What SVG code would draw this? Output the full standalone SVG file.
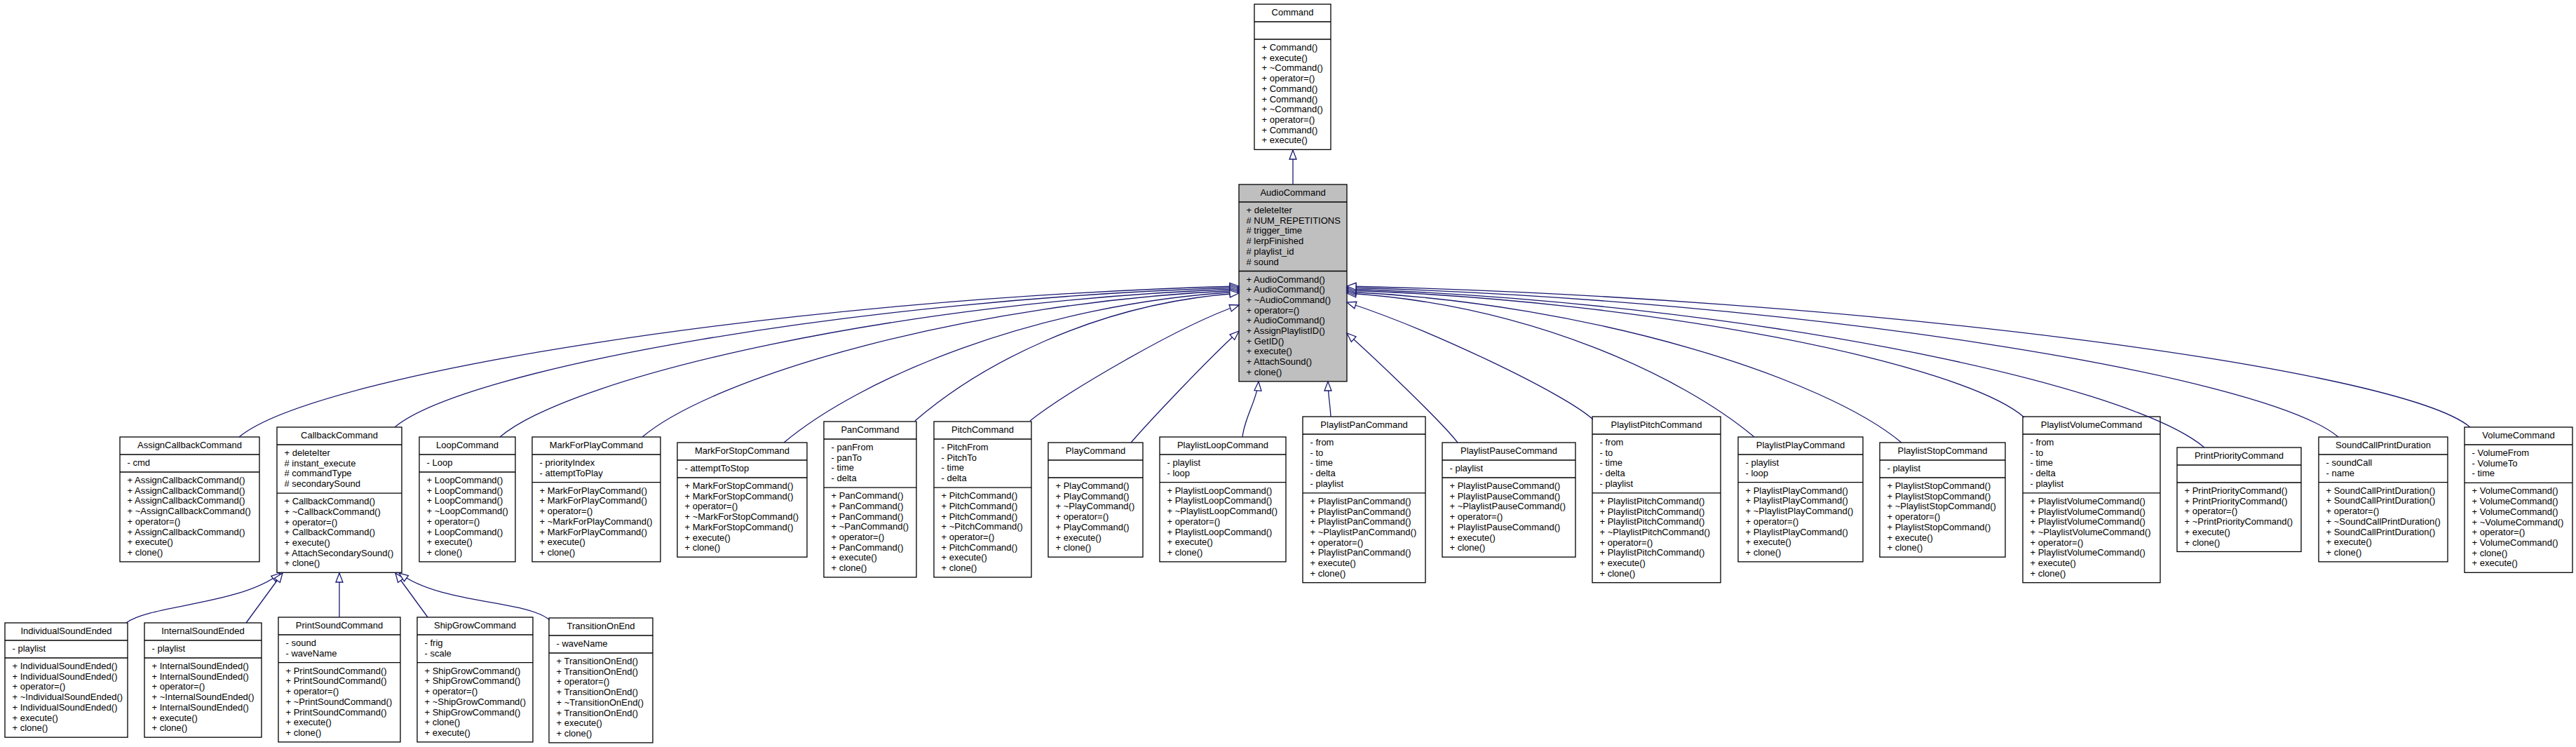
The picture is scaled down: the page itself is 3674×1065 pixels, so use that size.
<svg xmlns="http://www.w3.org/2000/svg" width="3674" height="1065" viewBox="0 0 3674 1065">
<style>
.bg{fill:#fff}
.box{fill:#fff;stroke:#000;stroke-width:1.3}
.gray{fill:#bfbfbf}
.dv{stroke:#000;stroke-width:1.3}
.t{font-family:"Liberation Sans",Arial,Helvetica,sans-serif;font-size:13px;fill:#000}
.c{text-anchor:middle}
.e{fill:none;stroke:#191970;stroke-width:1.3;marker-end:url(#tri)}
</style>
<defs>
<marker id="tri" markerUnits="userSpaceOnUse" markerWidth="20" markerHeight="16" viewBox="-16 -8 20 16" refX="0" refY="0" orient="auto" overflow="visible">
<path d="M0,0 L-13,-5 L-13,5 Z" fill="#fff" stroke="#191970" stroke-width="1.3"/>
</marker>
</defs>
<rect class="bg" x="0" y="0" width="3674" height="1065"/>

<g id="Command">
<rect class="box" x="1789" y="6" width="109" height="207.3"/>
<line class="dv" x1="1789" y1="31" x2="1898" y2="31"/>
<line class="dv" x1="1789" y1="56" x2="1898" y2="56"/>
<text class="t c" x="1843.5" y="22">Command</text>
<text class="t" x="1799.5" y="72"><tspan x="1799.5">+ Command()</tspan><tspan x="1799.5" dy="14.7">+ execute()</tspan><tspan x="1799.5" dy="14.7">+ ~Command()</tspan><tspan x="1799.5" dy="14.7">+ operator=()</tspan><tspan x="1799.5" dy="14.7">+ Command()</tspan><tspan x="1799.5" dy="14.7">+ Command()</tspan><tspan x="1799.5" dy="14.7">+ ~Command()</tspan><tspan x="1799.5" dy="14.7">+ operator=()</tspan><tspan x="1799.5" dy="14.7">+ Command()</tspan><tspan x="1799.5" dy="14.7">+ execute()</tspan></text>
</g>

<g id="AudioCommand">
<rect class="box gray" x="1767" y="263" width="154" height="280.8"/>
<line class="dv" x1="1767" y1="288" x2="1921" y2="288"/>
<line class="dv" x1="1767" y1="386.5" x2="1921" y2="386.5"/>
<text class="t c" x="1844" y="279">AudioCommand</text>
<text class="t" x="1777.5" y="304"><tspan x="1777.5">+ deleteIter</tspan><tspan x="1777.5" dy="14.7"># NUM_REPETITIONS</tspan><tspan x="1777.5" dy="14.7"># trigger_time</tspan><tspan x="1777.5" dy="14.7"># lerpFinished</tspan><tspan x="1777.5" dy="14.7"># playlist_id</tspan><tspan x="1777.5" dy="14.7"># sound</tspan></text>
<text class="t" x="1777.5" y="402.5"><tspan x="1777.5">+ AudioCommand()</tspan><tspan x="1777.5" dy="14.7">+ AudioCommand()</tspan><tspan x="1777.5" dy="14.7">+ ~AudioCommand()</tspan><tspan x="1777.5" dy="14.7">+ operator=()</tspan><tspan x="1777.5" dy="14.7">+ AudioCommand()</tspan><tspan x="1777.5" dy="14.7">+ AssignPlaylistID()</tspan><tspan x="1777.5" dy="14.7">+ GetID()</tspan><tspan x="1777.5" dy="14.7">+ execute()</tspan><tspan x="1777.5" dy="14.7">+ AttachSound()</tspan><tspan x="1777.5" dy="14.7">+ clone()</tspan></text>
</g>

<g id="AssignCallbackCommand">
<rect class="box" x="171" y="623" width="199" height="177.9"/>
<line class="dv" x1="171" y1="648" x2="370" y2="648"/>
<line class="dv" x1="171" y1="673" x2="370" y2="673"/>
<text class="t c" x="270.5" y="639">AssignCallbackCommand</text>
<text class="t" x="181.5" y="664">- cmd</text>
<text class="t" x="181.5" y="689"><tspan x="181.5">+ AssignCallbackCommand()</tspan><tspan x="181.5" dy="14.7">+ AssignCallbackCommand()</tspan><tspan x="181.5" dy="14.7">+ AssignCallbackCommand()</tspan><tspan x="181.5" dy="14.7">+ ~AssignCallbackCommand()</tspan><tspan x="181.5" dy="14.7">+ operator=()</tspan><tspan x="181.5" dy="14.7">+ AssignCallbackCommand()</tspan><tspan x="181.5" dy="14.7">+ execute()</tspan><tspan x="181.5" dy="14.7">+ clone()</tspan></text>
</g>

<g id="CallbackCommand">
<rect class="box" x="395" y="609" width="178" height="207.3"/>
<line class="dv" x1="395" y1="634" x2="573" y2="634"/>
<line class="dv" x1="395" y1="703.1" x2="573" y2="703.1"/>
<text class="t c" x="484" y="625">CallbackCommand</text>
<text class="t" x="405.5" y="650"><tspan x="405.5">+ deleteIter</tspan><tspan x="405.5" dy="14.7"># instant_execute</tspan><tspan x="405.5" dy="14.7"># commandType</tspan><tspan x="405.5" dy="14.7"># secondarySound</tspan></text>
<text class="t" x="405.5" y="719.1"><tspan x="405.5">+ CallbackCommand()</tspan><tspan x="405.5" dy="14.7">+ ~CallbackCommand()</tspan><tspan x="405.5" dy="14.7">+ operator=()</tspan><tspan x="405.5" dy="14.7">+ CallbackCommand()</tspan><tspan x="405.5" dy="14.7">+ execute()</tspan><tspan x="405.5" dy="14.7">+ AttachSecondarySound()</tspan><tspan x="405.5" dy="14.7">+ clone()</tspan></text>
</g>

<g id="LoopCommand">
<rect class="box" x="598" y="623" width="137" height="177.9"/>
<line class="dv" x1="598" y1="648" x2="735" y2="648"/>
<line class="dv" x1="598" y1="673" x2="735" y2="673"/>
<text class="t c" x="666.5" y="639">LoopCommand</text>
<text class="t" x="608.5" y="664">- Loop</text>
<text class="t" x="608.5" y="689"><tspan x="608.5">+ LoopCommand()</tspan><tspan x="608.5" dy="14.7">+ LoopCommand()</tspan><tspan x="608.5" dy="14.7">+ LoopCommand()</tspan><tspan x="608.5" dy="14.7">+ ~LoopCommand()</tspan><tspan x="608.5" dy="14.7">+ operator=()</tspan><tspan x="608.5" dy="14.7">+ LoopCommand()</tspan><tspan x="608.5" dy="14.7">+ execute()</tspan><tspan x="608.5" dy="14.7">+ clone()</tspan></text>
</g>

<g id="MarkForPlayCommand">
<rect class="box" x="759" y="623" width="183" height="177.9"/>
<line class="dv" x1="759" y1="648" x2="942" y2="648"/>
<line class="dv" x1="759" y1="687.7" x2="942" y2="687.7"/>
<text class="t c" x="850.5" y="639">MarkForPlayCommand</text>
<text class="t" x="769.5" y="664"><tspan x="769.5">- priorityIndex</tspan><tspan x="769.5" dy="14.7">- attemptToPlay</tspan></text>
<text class="t" x="769.5" y="703.7"><tspan x="769.5">+ MarkForPlayCommand()</tspan><tspan x="769.5" dy="14.7">+ MarkForPlayCommand()</tspan><tspan x="769.5" dy="14.7">+ operator=()</tspan><tspan x="769.5" dy="14.7">+ ~MarkForPlayCommand()</tspan><tspan x="769.5" dy="14.7">+ MarkForPlayCommand()</tspan><tspan x="769.5" dy="14.7">+ execute()</tspan><tspan x="769.5" dy="14.7">+ clone()</tspan></text>
</g>

<g id="MarkForStopCommand">
<rect class="box" x="966" y="631" width="185" height="163.2"/>
<line class="dv" x1="966" y1="656" x2="1151" y2="656"/>
<line class="dv" x1="966" y1="681" x2="1151" y2="681"/>
<text class="t c" x="1058.5" y="647">MarkForStopCommand</text>
<text class="t" x="976.5" y="672">- attemptToStop</text>
<text class="t" x="976.5" y="697"><tspan x="976.5">+ MarkForStopCommand()</tspan><tspan x="976.5" dy="14.7">+ MarkForStopCommand()</tspan><tspan x="976.5" dy="14.7">+ operator=()</tspan><tspan x="976.5" dy="14.7">+ ~MarkForStopCommand()</tspan><tspan x="976.5" dy="14.7">+ MarkForStopCommand()</tspan><tspan x="976.5" dy="14.7">+ execute()</tspan><tspan x="976.5" dy="14.7">+ clone()</tspan></text>
</g>

<g id="PanCommand">
<rect class="box" x="1175" y="601" width="132" height="222"/>
<line class="dv" x1="1175" y1="626" x2="1307" y2="626"/>
<line class="dv" x1="1175" y1="695.1" x2="1307" y2="695.1"/>
<text class="t c" x="1241" y="617">PanCommand</text>
<text class="t" x="1185.5" y="642"><tspan x="1185.5">- panFrom</tspan><tspan x="1185.5" dy="14.7">- panTo</tspan><tspan x="1185.5" dy="14.7">- time</tspan><tspan x="1185.5" dy="14.7">- delta</tspan></text>
<text class="t" x="1185.5" y="711.1"><tspan x="1185.5">+ PanCommand()</tspan><tspan x="1185.5" dy="14.7">+ PanCommand()</tspan><tspan x="1185.5" dy="14.7">+ PanCommand()</tspan><tspan x="1185.5" dy="14.7">+ ~PanCommand()</tspan><tspan x="1185.5" dy="14.7">+ operator=()</tspan><tspan x="1185.5" dy="14.7">+ PanCommand()</tspan><tspan x="1185.5" dy="14.7">+ execute()</tspan><tspan x="1185.5" dy="14.7">+ clone()</tspan></text>
</g>

<g id="PitchCommand">
<rect class="box" x="1332" y="601" width="139" height="222"/>
<line class="dv" x1="1332" y1="626" x2="1471" y2="626"/>
<line class="dv" x1="1332" y1="695.1" x2="1471" y2="695.1"/>
<text class="t c" x="1401.5" y="617">PitchCommand</text>
<text class="t" x="1342.5" y="642"><tspan x="1342.5">- PitchFrom</tspan><tspan x="1342.5" dy="14.7">- PitchTo</tspan><tspan x="1342.5" dy="14.7">- time</tspan><tspan x="1342.5" dy="14.7">- delta</tspan></text>
<text class="t" x="1342.5" y="711.1"><tspan x="1342.5">+ PitchCommand()</tspan><tspan x="1342.5" dy="14.7">+ PitchCommand()</tspan><tspan x="1342.5" dy="14.7">+ PitchCommand()</tspan><tspan x="1342.5" dy="14.7">+ ~PitchCommand()</tspan><tspan x="1342.5" dy="14.7">+ operator=()</tspan><tspan x="1342.5" dy="14.7">+ PitchCommand()</tspan><tspan x="1342.5" dy="14.7">+ execute()</tspan><tspan x="1342.5" dy="14.7">+ clone()</tspan></text>
</g>

<g id="PlayCommand">
<rect class="box" x="1495" y="631" width="135" height="163.2"/>
<line class="dv" x1="1495" y1="656" x2="1630" y2="656"/>
<line class="dv" x1="1495" y1="681" x2="1630" y2="681"/>
<text class="t c" x="1562.5" y="647">PlayCommand</text>
<text class="t" x="1505.5" y="697"><tspan x="1505.5">+ PlayCommand()</tspan><tspan x="1505.5" dy="14.7">+ PlayCommand()</tspan><tspan x="1505.5" dy="14.7">+ ~PlayCommand()</tspan><tspan x="1505.5" dy="14.7">+ operator=()</tspan><tspan x="1505.5" dy="14.7">+ PlayCommand()</tspan><tspan x="1505.5" dy="14.7">+ execute()</tspan><tspan x="1505.5" dy="14.7">+ clone()</tspan></text>
</g>

<g id="PlaylistLoopCommand">
<rect class="box" x="1654" y="623" width="180" height="177.9"/>
<line class="dv" x1="1654" y1="648" x2="1834" y2="648"/>
<line class="dv" x1="1654" y1="687.7" x2="1834" y2="687.7"/>
<text class="t c" x="1744" y="639">PlaylistLoopCommand</text>
<text class="t" x="1664.5" y="664"><tspan x="1664.5">- playlist</tspan><tspan x="1664.5" dy="14.7">- loop</tspan></text>
<text class="t" x="1664.5" y="703.7"><tspan x="1664.5">+ PlaylistLoopCommand()</tspan><tspan x="1664.5" dy="14.7">+ PlaylistLoopCommand()</tspan><tspan x="1664.5" dy="14.7">+ ~PlaylistLoopCommand()</tspan><tspan x="1664.5" dy="14.7">+ operator=()</tspan><tspan x="1664.5" dy="14.7">+ PlaylistLoopCommand()</tspan><tspan x="1664.5" dy="14.7">+ execute()</tspan><tspan x="1664.5" dy="14.7">+ clone()</tspan></text>
</g>

<g id="PlaylistPanCommand">
<rect class="box" x="1858" y="594" width="175" height="236.7"/>
<line class="dv" x1="1858" y1="619" x2="2033" y2="619"/>
<line class="dv" x1="1858" y1="702.8" x2="2033" y2="702.8"/>
<text class="t c" x="1945.5" y="610">PlaylistPanCommand</text>
<text class="t" x="1868.5" y="635"><tspan x="1868.5">- from</tspan><tspan x="1868.5" dy="14.7">- to</tspan><tspan x="1868.5" dy="14.7">- time</tspan><tspan x="1868.5" dy="14.7">- delta</tspan><tspan x="1868.5" dy="14.7">- playlist</tspan></text>
<text class="t" x="1868.5" y="718.8"><tspan x="1868.5">+ PlaylistPanCommand()</tspan><tspan x="1868.5" dy="14.7">+ PlaylistPanCommand()</tspan><tspan x="1868.5" dy="14.7">+ PlaylistPanCommand()</tspan><tspan x="1868.5" dy="14.7">+ ~PlaylistPanCommand()</tspan><tspan x="1868.5" dy="14.7">+ operator=()</tspan><tspan x="1868.5" dy="14.7">+ PlaylistPanCommand()</tspan><tspan x="1868.5" dy="14.7">+ execute()</tspan><tspan x="1868.5" dy="14.7">+ clone()</tspan></text>
</g>

<g id="PlaylistPauseCommand">
<rect class="box" x="2057" y="631" width="190" height="163.2"/>
<line class="dv" x1="2057" y1="656" x2="2247" y2="656"/>
<line class="dv" x1="2057" y1="681" x2="2247" y2="681"/>
<text class="t c" x="2152" y="647">PlaylistPauseCommand</text>
<text class="t" x="2067.5" y="672">- playlist</text>
<text class="t" x="2067.5" y="697"><tspan x="2067.5">+ PlaylistPauseCommand()</tspan><tspan x="2067.5" dy="14.7">+ PlaylistPauseCommand()</tspan><tspan x="2067.5" dy="14.7">+ ~PlaylistPauseCommand()</tspan><tspan x="2067.5" dy="14.7">+ operator=()</tspan><tspan x="2067.5" dy="14.7">+ PlaylistPauseCommand()</tspan><tspan x="2067.5" dy="14.7">+ execute()</tspan><tspan x="2067.5" dy="14.7">+ clone()</tspan></text>
</g>

<g id="PlaylistPitchCommand">
<rect class="box" x="2271" y="594" width="183" height="236.7"/>
<line class="dv" x1="2271" y1="619" x2="2454" y2="619"/>
<line class="dv" x1="2271" y1="702.8" x2="2454" y2="702.8"/>
<text class="t c" x="2362.5" y="610">PlaylistPitchCommand</text>
<text class="t" x="2281.5" y="635"><tspan x="2281.5">- from</tspan><tspan x="2281.5" dy="14.7">- to</tspan><tspan x="2281.5" dy="14.7">- time</tspan><tspan x="2281.5" dy="14.7">- delta</tspan><tspan x="2281.5" dy="14.7">- playlist</tspan></text>
<text class="t" x="2281.5" y="718.8"><tspan x="2281.5">+ PlaylistPitchCommand()</tspan><tspan x="2281.5" dy="14.7">+ PlaylistPitchCommand()</tspan><tspan x="2281.5" dy="14.7">+ PlaylistPitchCommand()</tspan><tspan x="2281.5" dy="14.7">+ ~PlaylistPitchCommand()</tspan><tspan x="2281.5" dy="14.7">+ operator=()</tspan><tspan x="2281.5" dy="14.7">+ PlaylistPitchCommand()</tspan><tspan x="2281.5" dy="14.7">+ execute()</tspan><tspan x="2281.5" dy="14.7">+ clone()</tspan></text>
</g>

<g id="PlaylistPlayCommand">
<rect class="box" x="2479" y="623" width="178" height="177.9"/>
<line class="dv" x1="2479" y1="648" x2="2657" y2="648"/>
<line class="dv" x1="2479" y1="687.7" x2="2657" y2="687.7"/>
<text class="t c" x="2568" y="639">PlaylistPlayCommand</text>
<text class="t" x="2489.5" y="664"><tspan x="2489.5">- playlist</tspan><tspan x="2489.5" dy="14.7">- loop</tspan></text>
<text class="t" x="2489.5" y="703.7"><tspan x="2489.5">+ PlaylistPlayCommand()</tspan><tspan x="2489.5" dy="14.7">+ PlaylistPlayCommand()</tspan><tspan x="2489.5" dy="14.7">+ ~PlaylistPlayCommand()</tspan><tspan x="2489.5" dy="14.7">+ operator=()</tspan><tspan x="2489.5" dy="14.7">+ PlaylistPlayCommand()</tspan><tspan x="2489.5" dy="14.7">+ execute()</tspan><tspan x="2489.5" dy="14.7">+ clone()</tspan></text>
</g>

<g id="PlaylistStopCommand">
<rect class="box" x="2681" y="631" width="179" height="163.2"/>
<line class="dv" x1="2681" y1="656" x2="2860" y2="656"/>
<line class="dv" x1="2681" y1="681" x2="2860" y2="681"/>
<text class="t c" x="2770.5" y="647">PlaylistStopCommand</text>
<text class="t" x="2691.5" y="672">- playlist</text>
<text class="t" x="2691.5" y="697"><tspan x="2691.5">+ PlaylistStopCommand()</tspan><tspan x="2691.5" dy="14.7">+ PlaylistStopCommand()</tspan><tspan x="2691.5" dy="14.7">+ ~PlaylistStopCommand()</tspan><tspan x="2691.5" dy="14.7">+ operator=()</tspan><tspan x="2691.5" dy="14.7">+ PlaylistStopCommand()</tspan><tspan x="2691.5" dy="14.7">+ execute()</tspan><tspan x="2691.5" dy="14.7">+ clone()</tspan></text>
</g>

<g id="PlaylistVolumeCommand">
<rect class="box" x="2885" y="594" width="196" height="236.7"/>
<line class="dv" x1="2885" y1="619" x2="3081" y2="619"/>
<line class="dv" x1="2885" y1="702.8" x2="3081" y2="702.8"/>
<text class="t c" x="2983" y="610">PlaylistVolumeCommand</text>
<text class="t" x="2895.5" y="635"><tspan x="2895.5">- from</tspan><tspan x="2895.5" dy="14.7">- to</tspan><tspan x="2895.5" dy="14.7">- time</tspan><tspan x="2895.5" dy="14.7">- delta</tspan><tspan x="2895.5" dy="14.7">- playlist</tspan></text>
<text class="t" x="2895.5" y="718.8"><tspan x="2895.5">+ PlaylistVolumeCommand()</tspan><tspan x="2895.5" dy="14.7">+ PlaylistVolumeCommand()</tspan><tspan x="2895.5" dy="14.7">+ PlaylistVolumeCommand()</tspan><tspan x="2895.5" dy="14.7">+ ~PlaylistVolumeCommand()</tspan><tspan x="2895.5" dy="14.7">+ operator=()</tspan><tspan x="2895.5" dy="14.7">+ PlaylistVolumeCommand()</tspan><tspan x="2895.5" dy="14.7">+ execute()</tspan><tspan x="2895.5" dy="14.7">+ clone()</tspan></text>
</g>

<g id="PrintPriorityCommand">
<rect class="box" x="3105" y="638" width="177" height="148.5"/>
<line class="dv" x1="3105" y1="663" x2="3282" y2="663"/>
<line class="dv" x1="3105" y1="688" x2="3282" y2="688"/>
<text class="t c" x="3193.5" y="654">PrintPriorityCommand</text>
<text class="t" x="3115.5" y="704"><tspan x="3115.5">+ PrintPriorityCommand()</tspan><tspan x="3115.5" dy="14.7">+ PrintPriorityCommand()</tspan><tspan x="3115.5" dy="14.7">+ operator=()</tspan><tspan x="3115.5" dy="14.7">+ ~PrintPriorityCommand()</tspan><tspan x="3115.5" dy="14.7">+ execute()</tspan><tspan x="3115.5" dy="14.7">+ clone()</tspan></text>
</g>

<g id="SoundCallPrintDuration">
<rect class="box" x="3307" y="623" width="184" height="177.9"/>
<line class="dv" x1="3307" y1="648" x2="3491" y2="648"/>
<line class="dv" x1="3307" y1="687.7" x2="3491" y2="687.7"/>
<text class="t c" x="3399" y="639">SoundCallPrintDuration</text>
<text class="t" x="3317.5" y="664"><tspan x="3317.5">- soundCall</tspan><tspan x="3317.5" dy="14.7">- name</tspan></text>
<text class="t" x="3317.5" y="703.7"><tspan x="3317.5">+ SoundCallPrintDuration()</tspan><tspan x="3317.5" dy="14.7">+ SoundCallPrintDuration()</tspan><tspan x="3317.5" dy="14.7">+ operator=()</tspan><tspan x="3317.5" dy="14.7">+ ~SoundCallPrintDuration()</tspan><tspan x="3317.5" dy="14.7">+ SoundCallPrintDuration()</tspan><tspan x="3317.5" dy="14.7">+ execute()</tspan><tspan x="3317.5" dy="14.7">+ clone()</tspan></text>
</g>

<g id="VolumeCommand">
<rect class="box" x="3515" y="609" width="154" height="207.3"/>
<line class="dv" x1="3515" y1="634" x2="3669" y2="634"/>
<line class="dv" x1="3515" y1="688.4" x2="3669" y2="688.4"/>
<text class="t c" x="3592" y="625">VolumeCommand</text>
<text class="t" x="3525.5" y="650"><tspan x="3525.5">- VolumeFrom</tspan><tspan x="3525.5" dy="14.7">- VolumeTo</tspan><tspan x="3525.5" dy="14.7">- time</tspan></text>
<text class="t" x="3525.5" y="704.4"><tspan x="3525.5">+ VolumeCommand()</tspan><tspan x="3525.5" dy="14.7">+ VolumeCommand()</tspan><tspan x="3525.5" dy="14.7">+ VolumeCommand()</tspan><tspan x="3525.5" dy="14.7">+ ~VolumeCommand()</tspan><tspan x="3525.5" dy="14.7">+ operator=()</tspan><tspan x="3525.5" dy="14.7">+ VolumeCommand()</tspan><tspan x="3525.5" dy="14.7">+ clone()</tspan><tspan x="3525.5" dy="14.7">+ execute()</tspan></text>
</g>

<g id="IndividualSoundEnded">
<rect class="box" x="7" y="888" width="175" height="163.2"/>
<line class="dv" x1="7" y1="913" x2="182" y2="913"/>
<line class="dv" x1="7" y1="938" x2="182" y2="938"/>
<text class="t c" x="94.5" y="904">IndividualSoundEnded</text>
<text class="t" x="17.5" y="929">- playlist</text>
<text class="t" x="17.5" y="954"><tspan x="17.5">+ IndividualSoundEnded()</tspan><tspan x="17.5" dy="14.7">+ IndividualSoundEnded()</tspan><tspan x="17.5" dy="14.7">+ operator=()</tspan><tspan x="17.5" dy="14.7">+ ~IndividualSoundEnded()</tspan><tspan x="17.5" dy="14.7">+ IndividualSoundEnded()</tspan><tspan x="17.5" dy="14.7">+ execute()</tspan><tspan x="17.5" dy="14.7">+ clone()</tspan></text>
</g>

<g id="InternalSoundEnded">
<rect class="box" x="206" y="888" width="167" height="163.2"/>
<line class="dv" x1="206" y1="913" x2="373" y2="913"/>
<line class="dv" x1="206" y1="938" x2="373" y2="938"/>
<text class="t c" x="289.5" y="904">InternalSoundEnded</text>
<text class="t" x="216.5" y="929">- playlist</text>
<text class="t" x="216.5" y="954"><tspan x="216.5">+ InternalSoundEnded()</tspan><tspan x="216.5" dy="14.7">+ InternalSoundEnded()</tspan><tspan x="216.5" dy="14.7">+ operator=()</tspan><tspan x="216.5" dy="14.7">+ ~InternalSoundEnded()</tspan><tspan x="216.5" dy="14.7">+ InternalSoundEnded()</tspan><tspan x="216.5" dy="14.7">+ execute()</tspan><tspan x="216.5" dy="14.7">+ clone()</tspan></text>
</g>

<g id="PrintSoundCommand">
<rect class="box" x="397" y="880" width="174" height="177.9"/>
<line class="dv" x1="397" y1="905" x2="571" y2="905"/>
<line class="dv" x1="397" y1="944.7" x2="571" y2="944.7"/>
<text class="t c" x="484" y="896">PrintSoundCommand</text>
<text class="t" x="407.5" y="921"><tspan x="407.5">- sound</tspan><tspan x="407.5" dy="14.7">- waveName</tspan></text>
<text class="t" x="407.5" y="960.7"><tspan x="407.5">+ PrintSoundCommand()</tspan><tspan x="407.5" dy="14.7">+ PrintSoundCommand()</tspan><tspan x="407.5" dy="14.7">+ operator=()</tspan><tspan x="407.5" dy="14.7">+ ~PrintSoundCommand()</tspan><tspan x="407.5" dy="14.7">+ PrintSoundCommand()</tspan><tspan x="407.5" dy="14.7">+ execute()</tspan><tspan x="407.5" dy="14.7">+ clone()</tspan></text>
</g>

<g id="ShipGrowCommand">
<rect class="box" x="595" y="880" width="165" height="177.9"/>
<line class="dv" x1="595" y1="905" x2="760" y2="905"/>
<line class="dv" x1="595" y1="944.7" x2="760" y2="944.7"/>
<text class="t c" x="677.5" y="896">ShipGrowCommand</text>
<text class="t" x="605.5" y="921"><tspan x="605.5">- frig</tspan><tspan x="605.5" dy="14.7">- scale</tspan></text>
<text class="t" x="605.5" y="960.7"><tspan x="605.5">+ ShipGrowCommand()</tspan><tspan x="605.5" dy="14.7">+ ShipGrowCommand()</tspan><tspan x="605.5" dy="14.7">+ operator=()</tspan><tspan x="605.5" dy="14.7">+ ~ShipGrowCommand()</tspan><tspan x="605.5" dy="14.7">+ ShipGrowCommand()</tspan><tspan x="605.5" dy="14.7">+ clone()</tspan><tspan x="605.5" dy="14.7">+ execute()</tspan></text>
</g>

<g id="TransitionOnEnd">
<rect class="box" x="783" y="881" width="148" height="177.9"/>
<line class="dv" x1="783" y1="906" x2="931" y2="906"/>
<line class="dv" x1="783" y1="931" x2="931" y2="931"/>
<text class="t c" x="857" y="897">TransitionOnEnd</text>
<text class="t" x="793.5" y="922">- waveName</text>
<text class="t" x="793.5" y="947"><tspan x="793.5">+ TransitionOnEnd()</tspan><tspan x="793.5" dy="14.7">+ TransitionOnEnd()</tspan><tspan x="793.5" dy="14.7">+ operator=()</tspan><tspan x="793.5" dy="14.7">+ TransitionOnEnd()</tspan><tspan x="793.5" dy="14.7">+ ~TransitionOnEnd()</tspan><tspan x="793.5" dy="14.7">+ TransitionOnEnd()</tspan><tspan x="793.5" dy="14.7">+ execute()</tspan><tspan x="793.5" dy="14.7">+ clone()</tspan></text>
</g>

<g id="connectors">
<path class="e" d="M1844,263 L1844,214"/>
<path class="e" d="M341,623 C448.5,532.7 1125.3,425.2 1767,408"/>
<path class="e" d="M563,609 C662.5,525.4 1225.2,425.9 1767,410"/>
<path class="e" d="M713,623 C818.5,534.4 1292.7,428.9 1767,412"/>
<path class="e" d="M916,623 C1020.5,535.2 1384,430.7 1767,414"/>
<path class="e" d="M1118,631 C1225.5,540.7 1475,433.2 1767,416"/>
<path class="e" d="M1305,600 C1393,524 1558,432.6 1767,418"/>
<path class="e" d="M1469,600 C1520,560 1680,465 1767,435"/>
<path class="e" d="M1613,631 C1640,600 1720,515 1767,472"/>
<path class="e" d="M1772,623 C1775,595 1793,570 1795,544"/>
<path class="e" d="M1898,594 C1897,575 1894,562 1894,544"/>
<path class="e" d="M2079,631 C2055,600 1960,510 1921,475"/>
<path class="e" d="M2272,598 C2230,560 2040,470 1921,431"/>
<path class="e" d="M2502,623 C2399.5,536.9 2182.5,434.4 1921,418"/>
<path class="e" d="M2712,631 C2604.5,540.7 2277,433.2 1921,416"/>
<path class="e" d="M2887,595 C2800,518.4 2357,428.4 1921,414"/>
<path class="e" d="M3144,638 C3031,543.1 2471.4,430.1 1921,412"/>
<path class="e" d="M3335,623 C3228.5,533.5 2557.3,427 1921,410"/>
<path class="e" d="M3523,609 C3422.5,524.6 2641.9,424.1 1921,408"/>
<path class="e" d="M180,888 C215,862 345,862 400,817"/>
<path class="e" d="M351,888 L403,817"/>
<path class="e" d="M484,880 L484,817"/>
<path class="e" d="M610,880 L564,817"/>
<path class="e" d="M784,884 C750,855 630,862 569,817"/>
</g>
</svg>
